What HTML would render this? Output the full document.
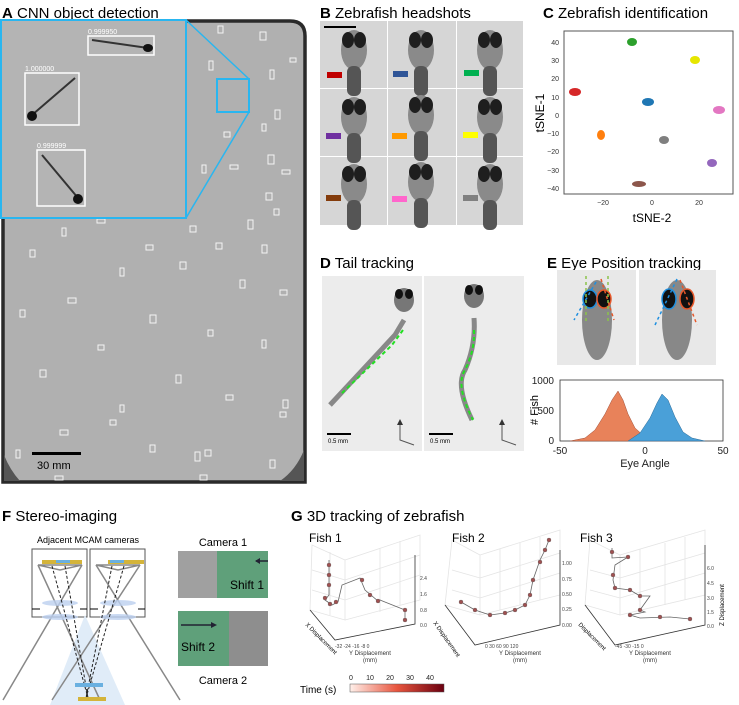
<!DOCTYPE html>
<html><head><meta charset="utf-8"><style>
html,body{margin:0;padding:0;background:#fff;}
svg{display:block;font-family:"Liberation Sans",Arial,sans-serif;}
</style></head><body>
<svg width="739" height="705" viewBox="0 0 739 705" xmlns="http://www.w3.org/2000/svg">
<defs>
<linearGradient id="tg" x1="0" x2="1"><stop offset="0" stop-color="#fff0ea"/><stop offset="0.5" stop-color="#e8553e"/><stop offset="1" stop-color="#6b0010"/></linearGradient>
<g id="fishhead">
 <ellipse cx="0" cy="22" rx="13" ry="20" fill="#8a8a8a"/>
 <ellipse cx="-6" cy="12" rx="6" ry="8" fill="#1e1e1e"/>
 <ellipse cx="6" cy="12" rx="6" ry="8" fill="#1e1e1e"/>
 <rect x="-7" y="38" width="14" height="30" rx="6" fill="#555"/>
</g>
</defs>

<!-- Panel A -->
<text x="2" y="18" font-size="15"><tspan font-weight="bold">A</tspan> CNN object detection</text>
<path d="M3 21 H290 Q305 21 305 36 V482 H3 Z" fill="#b0b0b0" stroke="#2a2a2a" stroke-width="3.5"/>
<path d="M4 455 Q10 470 20 481 H4Z" fill="#555"/><path d="M304 450 Q296 470 280 481 H304Z" fill="#555"/>
<g stroke="#f4f4f4" stroke-width="1" fill="none">
<rect x="218" y="26" width="5" height="7"/><rect x="260" y="32" width="6" height="8"/><rect x="290" y="58" width="6" height="4"/><rect x="209" y="61" width="4" height="9"/><rect x="270" y="70" width="4" height="9"/><rect x="275" y="110" width="5" height="9"/><rect x="262" y="124" width="4" height="7"/><rect x="224" y="132" width="6" height="5"/><rect x="202" y="165" width="4" height="8"/><rect x="230" y="165" width="8" height="4"/><rect x="268" y="155" width="6" height="9"/><rect x="282" y="170" width="8" height="4"/><rect x="266" y="193" width="6" height="7"/><rect x="274" y="209" width="5" height="6"/><rect x="248" y="220" width="5" height="9"/><rect x="216" y="243" width="6" height="6"/><rect x="262" y="245" width="5" height="8"/><rect x="190" y="226" width="6" height="6"/><rect x="62" y="228" width="4" height="8"/><rect x="146" y="245" width="7" height="5"/><rect x="97" y="219" width="8" height="4"/><rect x="30" y="250" width="5" height="7"/><rect x="120" y="268" width="4" height="8"/><rect x="180" y="262" width="6" height="7"/><rect x="240" y="280" width="5" height="8"/><rect x="280" y="290" width="7" height="5"/><rect x="68" y="298" width="8" height="5"/><rect x="20" y="310" width="5" height="7"/><rect x="150" y="315" width="6" height="8"/><rect x="208" y="330" width="5" height="6"/><rect x="262" y="340" width="4" height="8"/><rect x="98" y="345" width="6" height="5"/><rect x="40" y="370" width="6" height="7"/><rect x="176" y="375" width="5" height="8"/><rect x="226" y="395" width="7" height="5"/><rect x="283" y="400" width="5" height="8"/><rect x="120" y="405" width="4" height="7"/><rect x="60" y="430" width="8" height="5"/><rect x="150" y="445" width="5" height="7"/><rect x="205" y="450" width="6" height="6"/><rect x="270" y="460" width="5" height="8"/><rect x="16" y="450" width="4" height="8"/><rect x="195" y="452" width="5" height="9"/><rect x="200" y="475" width="7" height="5"/><rect x="55" y="476" width="8" height="4"/><rect x="110" y="420" width="6" height="5"/><rect x="280" y="412" width="6" height="5"/>
</g>
<rect x="1" y="20" width="185" height="198" fill="#b4b4b4" stroke="#29b6f0" stroke-width="2"/>
<rect x="217" y="79" width="32" height="33" fill="none" stroke="#29b6f0" stroke-width="2"/>
<line x1="186" y1="20" x2="249" y2="79" stroke="#29b6f0" stroke-width="1.5"/>
<line x1="186" y1="218" x2="249" y2="112" stroke="#29b6f0" stroke-width="1.5"/>
<g stroke="#fff" stroke-width="1.5" fill="none">
<rect x="88" y="36" width="66" height="19"/><rect x="25" y="73" width="54" height="52"/><rect x="37" y="150" width="48" height="56"/>
</g>
<g font-size="7" fill="#fff"><text x="88" y="34">0.999950</text><text x="25" y="71">1.000000</text><text x="37" y="148">0.999999</text></g>
<g stroke="#333" stroke-width="2"><line x1="92" y1="40" x2="148" y2="48"/><line x1="75" y1="78" x2="32" y2="115"/><line x1="42" y1="155" x2="78" y2="198"/></g>
<g fill="#111"><ellipse cx="148" cy="48" rx="5" ry="4"/><ellipse cx="32" cy="116" rx="5" ry="5"/><ellipse cx="78" cy="199" rx="5" ry="5"/></g>
<rect x="32" y="452" width="49" height="3" fill="#000"/>
<text x="37" y="469" font-size="11">30 mm</text>

<!-- Panel B -->
<text x="320" y="18" font-size="15"><tspan font-weight="bold">B</tspan> Zebrafish headshots</text>
<rect x="320" y="21" width="203" height="204" fill="#fff"/>
<g fill="#d6d6d6">
<rect x="320" y="21" width="67" height="67"/><rect x="388" y="21" width="68" height="67"/><rect x="457" y="21" width="66" height="67"/>
<rect x="320" y="89" width="67" height="67"/><rect x="388" y="89" width="68" height="67"/><rect x="457" y="89" width="66" height="67"/>
<rect x="320" y="157" width="67" height="68"/><rect x="388" y="157" width="68" height="68"/><rect x="457" y="157" width="66" height="68"/>
</g>
<use href="#fishhead" x="354" y="28"/><use href="#fishhead" x="421" y="28"/><use href="#fishhead" x="490" y="28"/>
<use href="#fishhead" x="354" y="95"/><use href="#fishhead" x="421" y="93"/><use href="#fishhead" x="490" y="95"/>
<use href="#fishhead" x="354" y="162"/><use href="#fishhead" x="421" y="160"/><use href="#fishhead" x="490" y="162"/>
<rect x="324" y="26" width="32" height="2" fill="#000"/>
<rect x="327" y="72" width="15" height="6" fill="#c00000"/><rect x="393" y="71" width="15" height="6" fill="#2f5597"/><rect x="464" y="70" width="15" height="6" fill="#00b050"/>
<rect x="326" y="133" width="15" height="6" fill="#7030a0"/><rect x="392" y="133" width="15" height="6" fill="#ff9900"/><rect x="463" y="132" width="15" height="6" fill="#ffff00"/>
<rect x="326" y="195" width="15" height="6" fill="#843c0c"/><rect x="392" y="196" width="15" height="6" fill="#ff66cc"/><rect x="463" y="195" width="15" height="6" fill="#808080"/>

<!-- Panel C -->
<text x="543" y="18" font-size="15"><tspan font-weight="bold">C</tspan> Zebrafish identification</text>
<rect x="564" y="31" width="169" height="163" fill="#fff" stroke="#555" stroke-width="1"/>
<g font-size="7" fill="#333" text-anchor="end">
<text x="559" y="45">40</text><text x="559" y="63">30</text><text x="559" y="81">20</text><text x="559" y="100">10</text><text x="559" y="118">0</text><text x="559" y="136">−10</text><text x="559" y="154">−20</text><text x="559" y="173">−30</text><text x="559" y="191">−40</text>
</g>
<g font-size="7" fill="#333" text-anchor="middle"><text x="603" y="205">−20</text><text x="652" y="205">0</text><text x="699" y="205">20</text></g>
<text x="652" y="222" font-size="12" text-anchor="middle">tSNE-2</text>
<text x="0" y="0" font-size="12" text-anchor="middle" transform="translate(544,113) rotate(-90)">tSNE-1</text>
<g>
<ellipse cx="575" cy="92" rx="6" ry="4" fill="#d62728"/>
<ellipse cx="632" cy="42" rx="5" ry="4" fill="#2ca02c"/>
<ellipse cx="695" cy="60" rx="5" ry="4" fill="#e6e600"/>
<ellipse cx="648" cy="102" rx="6" ry="4" fill="#1f77b4"/>
<ellipse cx="719" cy="110" rx="6" ry="4" fill="#e377c2"/>
<ellipse cx="601" cy="135" rx="4" ry="5" fill="#ff7f0e"/>
<ellipse cx="664" cy="140" rx="5" ry="4" fill="#7f7f7f"/>
<ellipse cx="712" cy="163" rx="5" ry="4" fill="#9467bd"/>
<ellipse cx="639" cy="184" rx="7" ry="3" fill="#8c564b"/>
</g>

<!-- Panel D -->
<text x="320" y="268" font-size="15"><tspan font-weight="bold">D</tspan> Tail tracking</text>
<rect x="322" y="276" width="100" height="175" fill="#ececec"/>
<rect x="424" y="276" width="100" height="175" fill="#ececec"/>
<path d="M404 320 L395 335 L330 405" stroke="#888" stroke-width="5" fill="none"/>
<ellipse cx="404" cy="300" rx="10" ry="12" fill="#777"/><ellipse cx="399" cy="294" rx="4" ry="5" fill="#111"/><ellipse cx="409" cy="294" rx="4" ry="5" fill="#111"/>
<path d="M403 330 L392 345 L340 395" stroke="#22e022" stroke-width="2" stroke-dasharray="4 3" fill="none"/>
<path d="M474 318 Q476 345 465 370 Q455 385 472 420" stroke="#888" stroke-width="5" fill="none"/>
<ellipse cx="474" cy="296" rx="10" ry="12" fill="#777"/><ellipse cx="469" cy="290" rx="4" ry="5" fill="#111"/><ellipse cx="479" cy="290" rx="4" ry="5" fill="#111"/>
<path d="M474 330 Q475 350 465 370 Q455 385 473 420" stroke="#22e022" stroke-width="2" stroke-dasharray="4 3" fill="none"/>
<rect x="327" y="433" width="24" height="2" fill="#000"/><text x="328" y="443" font-size="6">0.5 mm</text>
<rect x="429" y="433" width="24" height="2" fill="#000"/><text x="430" y="443" font-size="6">0.5 mm</text>
<g stroke="#555" fill="none"><path d="M400 424 V440 L414 445"/><path d="M502 424 V440 L516 445"/></g>
<g fill="#333"><path d="M397 425 L400 419 L403 425Z"/><path d="M499 425 L502 419 L505 425Z"/></g>

<!-- Panel E -->
<text x="547" y="268" font-size="15"><tspan font-weight="bold">E</tspan> Eye Position tracking</text>
<rect x="557" y="270" width="79" height="95" fill="#e8e8e8"/><rect x="639" y="270" width="77" height="95" fill="#e8e8e8"/>
<ellipse cx="597" cy="320" rx="15" ry="40" fill="#888"/><ellipse cx="677" cy="320" rx="15" ry="40" fill="#888"/>
<ellipse cx="590" cy="299" rx="7" ry="9" fill="#111" stroke="#1e8fe0" stroke-width="1.5"/>
<ellipse cx="604" cy="299" rx="7" ry="9" fill="#111" stroke="#e8582a" stroke-width="1.5"/>
<ellipse cx="669" cy="299" rx="7" ry="10" fill="#111" stroke="#1e8fe0" stroke-width="1.5"/>
<ellipse cx="687" cy="299" rx="7" ry="10" fill="#111" stroke="#e8582a" stroke-width="1.5"/>
<g stroke-width="1.5" stroke-dasharray="3 3"><line x1="596" y1="282" x2="574" y2="320" stroke="#1e8fe0"/><line x1="601" y1="279" x2="614" y2="320" stroke="#e8582a"/><line x1="586" y1="276" x2="586" y2="322" stroke="#8bc34a"/><line x1="608" y1="276" x2="608" y2="322" stroke="#8bc34a"/><line x1="677" y1="279" x2="655" y2="325" stroke="#1e8fe0"/><line x1="680" y1="280" x2="697" y2="325" stroke="#e8582a"/></g>
<rect x="560" y="380" width="163" height="61" fill="#fff" stroke="#333" stroke-width="0.8"/>
<path d="M570 441 L585 438 L595 430 L605 414 L612 400 L618 391 L623 400 L628 414 L635 428 L645 437 L660 441Z" fill="#e8825a" stroke="#a0503a" stroke-width="0.5"/>
<path d="M628 441 L640 433 L650 418 L657 403 L662 394 L668 400 L675 417 L683 432 L692 438 L705 441Z" fill="#4aa0d8" stroke="#2a6a98" stroke-width="0.5"/>
<g font-size="10" fill="#222"><text x="554" y="384" text-anchor="end">1000</text><text x="554" y="414" text-anchor="end">500</text><text x="554" y="444" text-anchor="end">0</text>
<text x="560" y="454" text-anchor="middle">-50</text><text x="645" y="454" text-anchor="middle">0</text><text x="723" y="454" text-anchor="middle">50</text>
<text x="645" y="467" font-size="11" text-anchor="middle">Eye Angle</text></g>
<text x="0" y="0" font-size="11" text-anchor="middle" transform="translate(538,410) rotate(-90)"># Fish</text>

<!-- Panel F -->
<text x="2" y="521" font-size="15"><tspan font-weight="bold">F</tspan> Stereo-imaging</text>
<text x="88" y="543" font-size="9" text-anchor="middle">Adjacent MCAM cameras</text>
<rect x="32" y="549" width="55" height="68" fill="#fff" stroke="#555"/><rect x="90" y="549" width="55" height="68" fill="#fff" stroke="#555"/>
<path d="M85 615 L50 705 H125Z" fill="#e0ecf8"/>
<g stroke="#888" stroke-width="1.5" fill="none"><path d="M38 565 H82 L60 570Z"/><path d="M96 565 H140 L118 570Z"/><line x1="38" y1="565" x2="100" y2="700"/><line x1="82" y1="565" x2="3" y2="700"/><line x1="96" y1="565" x2="180" y2="700"/><line x1="140" y1="565" x2="52" y2="700"/></g>
<g fill="#bcd0f0" opacity="0.8"><ellipse cx="60" cy="603" rx="18" ry="3"/><ellipse cx="60" cy="617" rx="18" ry="3"/><ellipse cx="118" cy="603" rx="18" ry="3"/><ellipse cx="118" cy="617" rx="18" ry="3"/></g>
<g stroke="#000"><line x1="32" y1="609" x2="40" y2="609"/><line x1="80" y1="609" x2="87" y2="609"/><line x1="90" y1="609" x2="98" y2="609"/><line x1="138" y1="609" x2="145" y2="609"/></g>
<g stroke="#222" stroke-dasharray="3 2" fill="none"><line x1="52" y1="566" x2="88" y2="698"/><line x1="65" y1="566" x2="88" y2="698"/><line x1="112" y1="566" x2="86" y2="698"/><line x1="124" y1="566" x2="86" y2="698"/></g>
<rect x="42" y="560" width="40" height="4" fill="#d4b43a"/><rect x="108" y="560" width="36" height="4" fill="#d4b43a"/><rect x="56" y="560" width="14" height="3" fill="#6ab0e0"/><rect x="110" y="560" width="14" height="3" fill="#6ab0e0"/>
<rect x="75" y="683" width="28" height="4" fill="#6ab0e0"/><rect x="78" y="697" width="28" height="4" fill="#d4b43a"/>
<text x="223" y="546" font-size="11" text-anchor="middle">Camera 1</text>
<rect x="178" y="551" width="39" height="47" fill="#a0a0a0"/><rect x="217" y="551" width="51" height="47" fill="#5fa07a"/>
<text x="230" y="589" font-size="12">Shift 1</text><path d="M256 561 H268" stroke="#223" stroke-width="1.5"/><path d="M255 561 L260 558 V564Z" fill="#223"/>
<rect x="178" y="611" width="51" height="55" fill="#5fa07a"/><rect x="229" y="611" width="39" height="55" fill="#8e8e8e"/>
<text x="181" y="651" font-size="12">Shift 2</text><path d="M181 625 H213" stroke="#223" stroke-width="1.5"/><path d="M217 625 L211 622 V628Z" fill="#223"/>
<text x="223" y="684" font-size="11" text-anchor="middle">Camera 2</text>

<!-- Panel G -->
<text x="291" y="521" font-size="15"><tspan font-weight="bold">G</tspan>  3D tracking of zebrafish</text>
<g stroke="#e4e4e4" fill="none" stroke-width="0.8">
<path d="M312 545 L345 560 V620 L310 610 Z"/><path d="M345 560 L420 535 V600 L345 620"/><path d="M330 552 V615 M380 548 V612 M400 541 V605 M312 570 L345 580 L420 555 M312 590 L345 600 L420 575"/>
<path d="M452 540 L480 555 V615 L445 605 Z"/><path d="M480 555 L560 530 V595 L480 615"/><path d="M500 549 V610 M520 543 V605 M540 537 V600 M452 570 L480 578 L560 553 M452 590 L480 598 L560 573"/>
<path d="M590 540 L620 555 V615 L585 605 Z"/><path d="M620 555 L705 530 V595 L620 615"/><path d="M640 549 V610 M665 543 V605 M685 537 V600 M590 570 L620 578 L705 553 M590 590 L620 598 L705 573"/>
</g>
<g stroke="#333" stroke-width="0.8" fill="none"><path d="M310 610 L335 640 L415 624 V555"/><path d="M445 605 L475 645 L560 625 V550"/><path d="M585 605 L615 645 L705 625 V545"/></g>
<text x="309" y="542" font-size="12">Fish 1</text><text x="452" y="542" font-size="12">Fish 2</text><text x="580" y="542" font-size="12">Fish 3</text>
<g stroke="#666" fill="none" stroke-width="0.8">
<polyline points="329,560 329,595 325,600 332,605 338,602 342,585 360,578 365,590 378,601 380,600 405,610 405,622"/>
<polyline points="461,602 475,610 490,615 505,613 515,610 525,605 530,595 533,580 540,560 545,550 549,540"/>
<polyline points="612,548 612,558 628,557 615,565 613,580 615,588 630,590 640,596 650,596 640,610 645,612 630,615 640,618 670,617 690,619"/>
</g>
<g fill="#a05050" stroke="#666" stroke-width="0.4">
<circle cx="329" cy="565" r="2"/><circle cx="329" cy="575" r="2"/><circle cx="329" cy="585" r="2"/><circle cx="325" cy="598" r="2"/><circle cx="330" cy="604" r="2"/><circle cx="336" cy="602" r="2"/><circle cx="362" cy="580" r="2"/><circle cx="370" cy="595" r="2"/><circle cx="378" cy="601" r="2"/><circle cx="405" cy="610" r="2"/><circle cx="405" cy="620" r="2"/>
<circle cx="461" cy="602" r="2"/><circle cx="475" cy="610" r="2"/><circle cx="490" cy="615" r="2"/><circle cx="505" cy="613" r="2"/><circle cx="515" cy="610" r="2"/><circle cx="525" cy="605" r="2"/><circle cx="530" cy="595" r="2"/><circle cx="533" cy="580" r="2"/><circle cx="540" cy="562" r="2"/><circle cx="545" cy="550" r="2"/><circle cx="549" cy="540" r="2"/>
<circle cx="612" cy="552" r="2"/><circle cx="628" cy="557" r="2"/><circle cx="613" cy="575" r="2"/><circle cx="615" cy="588" r="2"/><circle cx="630" cy="590" r="2"/><circle cx="640" cy="596" r="2"/><circle cx="640" cy="610" r="2"/><circle cx="630" cy="615" r="2"/><circle cx="660" cy="617" r="2"/><circle cx="690" cy="619" r="2"/>
</g>
<g font-size="5" fill="#444">
<text x="420" y="580">2.4</text><text x="420" y="596">1.6</text><text x="420" y="612">0.8</text><text x="420" y="627">0.0</text>
<text x="562" y="565">1.00</text><text x="562" y="581">0.75</text><text x="562" y="596">0.50</text><text x="562" y="611">0.25</text><text x="562" y="627">0.00</text>
<text x="707" y="570">6.0</text><text x="707" y="585">4.5</text><text x="707" y="600">3.0</text><text x="707" y="614">1.5</text><text x="707" y="628">0.0</text>
<text x="335" y="648">-32 -24 -16 -8 0</text><text x="485" y="648">0 30 60 90 120</text><text x="615" y="648">-45 -30 -15 0</text>
</g>
<g font-size="6" fill="#333" text-anchor="middle">
<text x="370" y="655">Y Displacement</text><text x="370" y="662">(mm)</text>
<text x="520" y="655">Y Displacement</text><text x="520" y="662">(mm)</text>
<text x="650" y="655">Y Displacement</text><text x="650" y="662">(mm)</text>
</g>
<text x="0" y="0" font-size="6" transform="translate(305,625) rotate(45)">X Displacement</text>
<text x="0" y="0" font-size="6" transform="translate(433,623) rotate(55)">X Displacement</text>
<text x="0" y="0" font-size="6" transform="translate(578,625) rotate(45)">Displacement</text>
<text x="0" y="0" font-size="6" transform="translate(724,605) rotate(-90)" text-anchor="middle">Z Displacement</text>
<text x="300" y="693" font-size="10">Time (s)</text>
<rect x="350" y="684" width="94" height="8" fill="url(#tg)" stroke="#555" stroke-width="0.5"/>
<g font-size="7" fill="#222" text-anchor="middle"><text x="351" y="680">0</text><text x="370" y="680">10</text><text x="390" y="680">20</text><text x="410" y="680">30</text><text x="430" y="680">40</text></g>
</svg>
</body></html>
